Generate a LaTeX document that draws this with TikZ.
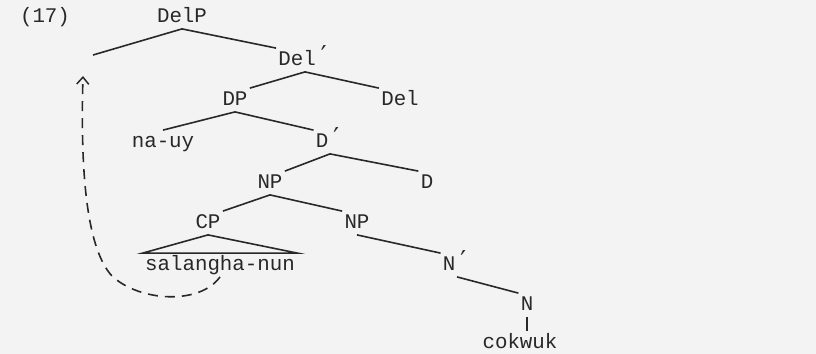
\documentclass[tikz,border=0pt]{standalone}
\usepackage{fontspec}
\setmainfont{Liberation Mono}
\newfontfamily\primefont{DejaVu Sans Mono}
\newcommand{\pr}{{\primefont\fontsize{13pt}{13pt}\selectfont\raisebox{0.1ex}{′}}}
\usetikzlibrary{arrows.meta}
\definecolor{bg}{RGB}{243,243,243}
\definecolor{ink}{RGB}{40,40,40}
\begin{document}
\begin{tikzpicture}[x=0.5pt,y=-0.5pt,
  lab/.style={inner sep=1pt,text=ink,text height=7.5pt,text depth=2pt,font=\fontsize{10.4pt}{12pt}\selectfont},
  br/.style={draw=ink,line width=0.8pt},
  mv/.style={draw=ink,line width=0.8pt,dash pattern=on 5pt off 3.5pt,-{Straight Barb[length=3.5pt,width=6pt,line width=0.75pt]}}]
\fill[bg] (0,0) rectangle (816,354);
\useasboundingbox (0,0) rectangle (816,354);
\node[lab] (ex) at (45,17) {(17)};
\node[lab] (delp) at (182,17) {DelP};
\coordinate (t) at (93,55);
\node[lab] (delb) at (305,60) {Del\pr};
\node[lab] (del) at (400,100) {Del};
\node[lab] (dp) at (235,100) {DP};
\node[lab] (nauy) at (163,142) {na-uy};
\node[lab] (db) at (330,142) {D\pr};
\node[lab] (d) at (427,183) {D};
\node[lab] (np) at (270,183) {NP};
\node[lab] (cp) at (208,223) {CP};
\node[lab] (np2) at (357,223) {NP};
\node[lab] (sal) at (220,265) {salangha-nun};
\node[lab] (nb) at (457,265) {N\pr};
\node[lab] (n) at (527,305) {N};
\node[lab] (cok) at (520,343) {cokwuk};
\coordinate (tip) at (83,76);
\draw[br] (delp.south) -- (t);
\draw[br] (delp.south) -- (delb.north west);
\draw[br] (delb.south) -- (dp.north east);
\draw[br] (delb.south) -- (del.north west);
\draw[br] (dp.south) -- (nauy.north);
\draw[br] (dp.south) -- (db.north west);
\draw[br] (db.south) -- (np.north east);
\draw[br] (db.south) -- (d.north west);
\draw[br] (np.south) -- (cp.north east);
\draw[br] (np.south) -- (np2.north west);
\draw[br] (cp.south) -- (sal.north west) -- (sal.north east) -- cycle;
\draw[br] (np2.south) -- (nb.north west);
\draw[br] (nb.south) -- (n.north west);
\draw[br] (n.south) -- (n.south |- cok.north);
\draw[mv] (sal.south) .. controls (200,305) and (140,302) .. (112,276) .. controls (88,250) and (80,180) .. (tip);
\end{tikzpicture}
\end{document}
